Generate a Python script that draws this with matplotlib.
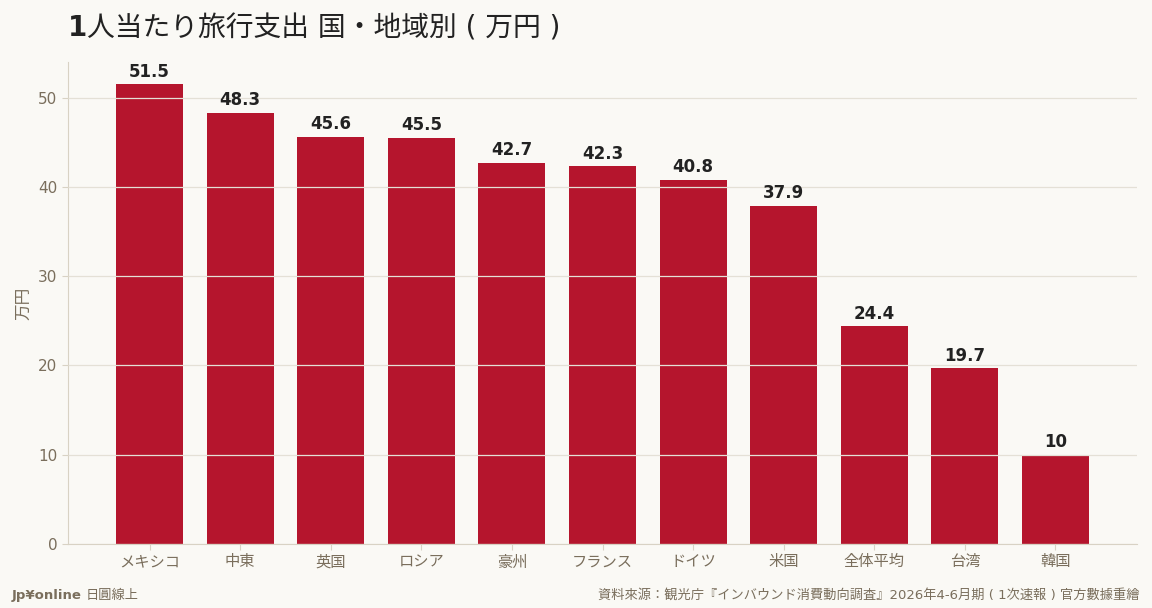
import matplotlib
matplotlib.use("Agg")
import matplotlib.pyplot as plt

plt.rcParams['font.family'] = ['DejaVu Sans', 'Noto Sans CJK JP']

regions = ['メキシコ', '中東', '英国', 'ロシア', '豪州', 'フランス', 'ドイツ',
           '米国', '全体平均', '台湾', '韓国']
spend = [51.5, 48.3, 45.6, 45.5, 42.7, 42.3, 40.8, 37.9, 24.4, 19.7, 10]
value_labels = ['51.5', '48.3', '45.6', '45.5', '42.7', '42.3', '40.8',
                '37.9', '24.4', '19.7', '10']
yticks = [0, 10, 20, 30, 40, 50]

bg = '#faf9f5'
bar_col = '#b5152d'
muted = '#7a6e5c'
line_col = '#d8d2c4'

W, H = 1152, 608
fig = plt.figure(figsize=(W / 100, H / 100), dpi=100, facecolor=bg)
ax = fig.add_axes([68 / W, 1 - 544 / H, (1137 - 68) / W, (544 - 62) / H])
ax.set_facecolor(bg)

x = list(range(len(regions)))
ax.bar(x, spend, width=0.74, color=bar_col, zorder=2)
for xi, v, lab in zip(x, spend, value_labels):
    ax.text(xi, v + 0.4, lab, ha='center', va='bottom', fontsize=12,
            fontweight='bold', color='#222222', zorder=4)

ax.set_xlim(-0.9, 10.9)
ax.set_ylim(0, 54)
ax.set_yticks(yticks)
ax.set_xticks(x)
ax.set_xticklabels(regions)
ax.tick_params(axis='both', colors=line_col, labelcolor=muted, labelsize=11,
               length=4)
ax.yaxis.grid(True, color='#e4e0d6', linewidth=0.9, zorder=3)
ax.set_axisbelow(False)
for s in ['top', 'right']:
    ax.spines[s].set_visible(False)
for s in ['left', 'bottom']:
    ax.spines[s].set_color(line_col)
ax.set_ylabel('万円', color=muted, fontsize=12, labelpad=4)

# title: bold "1" followed by regular text
t1 = fig.text(68 / W, 1 - 28 / H, '1', fontsize=20, fontweight='bold',
              color='#222222', va='center', ha='left')
fig.canvas.draw()
bb = t1.get_window_extent()
fig.text(bb.x1 / W, 1 - 28 / H, '人当たり旅行支出 国・地域別 ( 万円 )',
         fontsize=20, color='#222222', va='center', ha='left')

# footer
f1 = fig.text(12 / W, 1 - 595 / H, 'Jp¥online', fontsize=9.5,
              fontweight='bold', color=muted, va='center', ha='left')
fig.canvas.draw()
bb = f1.get_window_extent()
fig.text(bb.x1 / W + 4 / W, 1 - 595 / H, '日圓線上', fontsize=9.5,
         color=muted, va='center', ha='left')
fig.text(1139 / W, 1 - 595 / H,
         '資料來源：観光庁『インバウンド消費動向調査』2026年4-6月期 ( 1次速報 ) 官方數據重繪',
         fontsize=9.5, color=muted, va='center', ha='right')

fig.savefig('out.png', dpi=100, facecolor=bg)
